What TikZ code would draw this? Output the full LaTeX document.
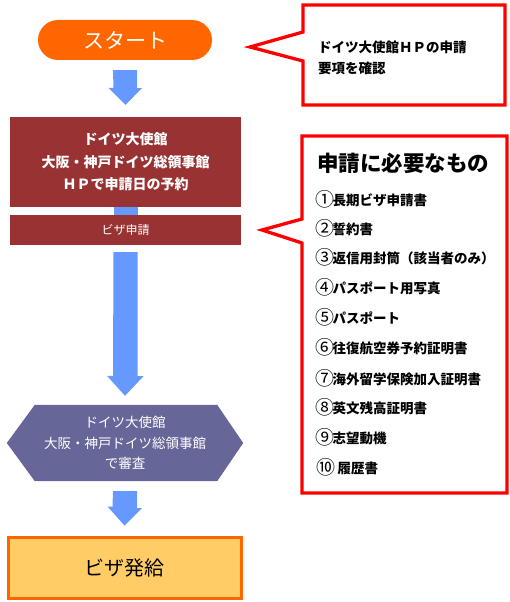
\documentclass[tikz,border=0pt]{standalone}
\usepackage{fontspec}
\setmainfont{Noto Sans CJK JP}
\usetikzlibrary{calc,backgrounds}
\definecolor{startor}{HTML}{FF6600}
\definecolor{arrowblue}{HTML}{6699FF}
\definecolor{boxred}{HTML}{993333}
\definecolor{hexpurple}{HTML}{666699}
\definecolor{issueyellow}{HTML}{FFCC66}
\definecolor{calloutred}{HTML}{FF0000}
\newcommand\circnum[1]{\raisebox{-1.8pt}{\mdseries\fontsize{19}{19}\selectfont #1}\hspace{-1.5pt}}
\begin{document}
\begin{tikzpicture}[x=1pt,y=-1pt,
  startbox/.style={fill=startor, rounded corners=20pt, minimum width=174pt, minimum height=40pt, inner sep=0pt, text=white, font=\fontsize{21}{21}\selectfont},
  redbox/.style={fill=boxred, minimum width=231pt, inner sep=0pt, text=white, align=center},
  hexnode/.style={minimum width=236pt, minimum height=76pt, inner sep=0pt, text=white, align=center, font=\fontsize{13.5}{20.5}\selectfont},
  issuebox/.style={fill=issueyellow, draw=startor, line width=3pt, minimum width=233pt, minimum height=61pt, inner sep=0pt, font=\fontsize{20}{20}\selectfont},
  blockarrow/.style={fill=arrowblue},
  callout/.style={draw=calloutred, fill=white, line width=3.3pt, line join=miter},
  notetext/.style={anchor=west, inner sep=0pt, align=left, font=\bfseries\fontsize{13.5}{21}\selectfont},
  itemtext/.style={anchor=base west, inner sep=0pt, font=\bfseries\fontsize{13.5}{14}\selectfont},
  titletext/.style={anchor=west, inner sep=0pt, font=\bfseries\fontsize{21.5}{22}\selectfont}
]
\useasboundingbox (0,0) rectangle (510,602);

% flow nodes
\node[startbox] (start) at (125,40) {スタート};
\node[redbox, minimum height=90pt, font=\bfseries\fontsize{14}{22.5}\selectfont] (embassy) at (125.5,162)
  {ドイツ大使館\\大阪・神戸ドイツ総領事館\\ＨＰで申請日の予約};
\node[redbox, minimum height=30pt, font=\fontsize{12}{12}\selectfont] (visa) at (125.5,230) {ビザ申請};
\node[hexnode] (review) at (125,443) {ドイツ大使館\\大阪・神戸ドイツ総領事館\\で審査};
\begin{scope}[on background layer]
  \fill[hexpurple] (review.west) -- ($(review.north west)+(28,0)$) -- ($(review.north east)+(-26,0)$)
    -- (review.east) -- ($(review.south east)+(-26,0)$) -- ($(review.south west)+(28,0)$) -- cycle;
\end{scope}
\node[issuebox] (issue) at (124.5,567.5) {ビザ発給};

% block arrows
\fill[blockarrow] ($(start.south)+(-12,10)$) -- ++(24,0) -- ++(0,18) -- ++(5,0)
  -- ($(embassy.north)+(0,-12)$) -- ++(-17,-17) -- ++(5,0) -- cycle;
\fill[blockarrow] ($(embassy.south)+(-12,0)$) rectangle ($(visa.north)+(12,0)$);
\fill[blockarrow] ($(visa.south)+(-12,7)$) -- ++(24,0) -- ++(0,124) -- ++(6,0)
  -- ($(review.north)+(0,-9)$) -- ++(-18,-20) -- ++(6,0) -- cycle;
\fill[blockarrow] ($(review.south)+(-12,10)$) -- ++(24,0) -- ++(0,17) -- ++(5,0)
  -- ($(issue.north)+(0,-10)$) -- ++(-17,-19) -- ++(5,0) -- cycle;

% callout 1
\draw[callout] (303,5) -- (505,5) -- (505,105) -- (303,105) -- (303,61) -- (250,47) -- (303,32) -- cycle;
\node[notetext] (note1) at (318,57.5) {ドイツ大使館ＨＰの申請\\要項を確認};

% callout 2
\draw[callout] (302,136) -- (507,136) -- (507,493) -- (302,493) -- (302,243) -- (262,230) -- (302,219) -- cycle;
\node[titletext] (needtitle) at (317,163) {申請に必要なもの};
\node[itemtext] (item1) at (315,205) {\circnum{①}長期ビザ申請書};
\node[itemtext] (item2) at (315,234) {\circnum{②}誓約書};
\node[itemtext] (item3) at (315,263) {\circnum{③}返信用封筒（該当者のみ）};
\node[itemtext] (item4) at (315,293) {\circnum{④}パスポート用写真};
\node[itemtext] (item5) at (315,323) {\circnum{⑤}パスポート};
\node[itemtext] (item6) at (315,353) {\circnum{⑥}往復航空券予約証明書};
\node[itemtext] (item7) at (315,384) {\circnum{⑦}海外留学保険加入証明書};
\node[itemtext] (item8) at (315,413) {\circnum{⑧}英文残高証明書};
\node[itemtext] (item9) at (315,443) {\circnum{⑨}志望動機};
\node[itemtext] (item10) at (316,473) {\circnum{⑩}\hspace{4pt}履歴書};
\end{tikzpicture}
\end{document}
